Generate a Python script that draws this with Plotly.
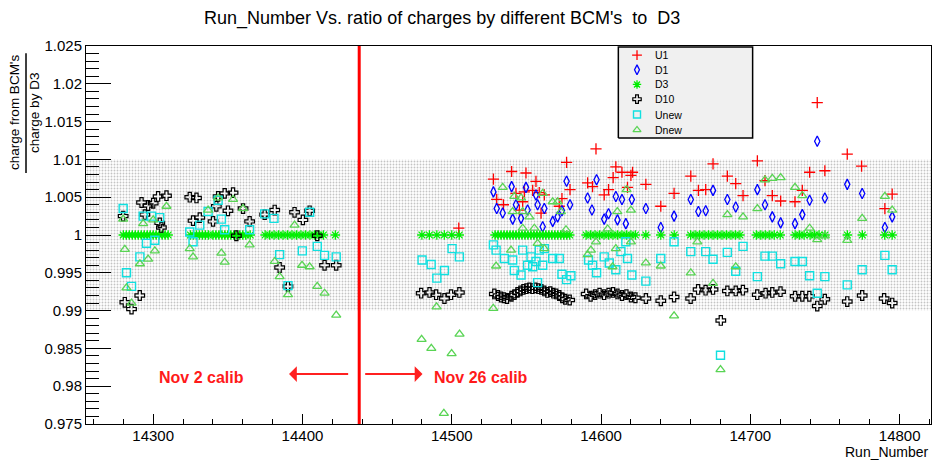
import plotly.graph_objects as go

# ---------------- data ----------------
u1_runs = [14504.7, 14527.9, 14530.1, 14534.6, 14540.1, 14543.0, 14545.3, 14547.5, 14548.6, 14549.7,
           14554.2, 14556.4, 14558.6, 14559.8, 14562.0, 14572.0, 14573.8, 14576.9, 14579.2, 14591.0,
           14594.3, 14596.6, 14602.1, 14605.0, 14608.1, 14609.9, 14614.0, 14617.7, 14620.0, 14621.1,
           14630.0, 14640.0, 14648.9, 14660.1, 14665.2, 14670.1, 14675.0, 14684.6, 14690.2, 14695.1,
           14704.7, 14709.8, 14714.7, 14720.3, 14729.9, 14734.8, 14739.7, 14744.8, 14749.9, 14764.9,
           14774.5, 14790.1, 14795.0]
u1_ratio = [1.0009, 1.0074, 1.0047, 1.0040, 1.0084, 1.0055, 1.0033, 1.0044, 1.0057, 1.0082,
            1.0059, 1.0071, 1.0056, 1.0029, 1.0053, 1.0038, 1.0048, 1.0096, 1.0060, 1.0069,
            1.0064, 1.0114, 1.0053, 1.0060, 1.0076, 1.0090, 1.0083, 1.0063, 1.0079, 1.0083,
            1.0067, 1.0038, 1.0055, 1.0078, 1.0059, 1.0060, 1.0094, 1.0078, 1.0068, 1.0052,
            1.0098, 1.0072, 1.0052, 1.0045, 1.0044, 1.0059, 1.0083, 1.0175, 1.0085, 1.0107,
            1.0091, 1.0035, 1.0054]

d1_runs = [14527.9, 14530.1, 14534.1, 14540.1, 14540.8, 14543.0, 14546.4, 14549.7, 14550.8, 14556.4,
           14557.5, 14560.9, 14562.0, 14567.6, 14570.9, 14573.8, 14576.9, 14579.2, 14591.0, 14593.9,
           14597.0, 14602.1, 14605.0, 14609.9, 14611.0, 14614.0, 14616.6, 14620.6, 14630.0, 14640.0,
           14648.9, 14660.1, 14665.2, 14670.1, 14675.0, 14684.6, 14690.2, 14704.7, 14709.8, 14714.7,
           14720.3, 14729.9, 14734.8, 14739.7, 14744.8, 14749.9, 14764.9, 14774.9, 14790.1, 14795.0]
d1_ratio = [1.0057, 1.0035, 1.0029, 1.0064, 1.0021, 1.0040, 1.0022, 1.0063, 1.0033, 1.0053,
            1.0040, 1.0011, 1.0035, 1.0018, 1.0024, 1.0032, 1.0071, 1.0040, 1.0049, 1.0033,
            1.0073, 1.0021, 1.0028, 1.0051, 1.0020, 1.0047, 1.0015, 1.0047, 1.0035, 1.0010,
            1.0025, 1.0047, 1.0031, 1.0032, 1.0059, 1.0047, 1.0037, 1.0060, 1.0040, 1.0024,
            1.0016, 1.0015, 1.0027, 1.0046, 1.0124, 1.0049, 1.0067, 1.0055, 1.0010, 1.0024]

d3_runs = [14280, 14282, 14284, 14286, 14288, 14290, 14292, 14294, 14296, 14298, 14300, 14302, 14304,
           14306, 14308, 14310, 14325, 14327, 14329, 14331, 14333, 14335, 14337, 14340, 14342, 14344,
           14346, 14348, 14350, 14352, 14354, 14356, 14358, 14360, 14362, 14365, 14375, 14378, 14381,
           14384, 14387, 14390, 14393, 14396, 14399, 14402, 14405, 14408, 14411, 14414, 14422,
           14480, 14485, 14490, 14495, 14500, 14505, 14529, 14531, 14533, 14535, 14537, 14539, 14541,
           14543, 14545, 14547, 14549, 14551, 14553, 14555, 14557, 14559, 14561, 14563, 14565, 14567,
           14569, 14571, 14573, 14575, 14577, 14579, 14590, 14593, 14596, 14599, 14602, 14605, 14608,
           14611, 14614, 14617, 14620, 14623, 14630, 14640, 14649, 14660, 14663, 14666, 14669, 14672,
           14675, 14678, 14681, 14684, 14687, 14690, 14693, 14704, 14707, 14710, 14713, 14716, 14720,
           14730, 14733, 14736, 14740, 14743, 14746, 14750, 14765, 14775, 14790, 14795]
d3_ratio = [1.0, 1.0, 1.0, 1.0, 1.0, 1.0, 1.0, 1.0, 1.0, 1.0, 1.0, 1.0, 1.0,
            1.0, 1.0, 1.0, 1.0, 1.0, 1.0, 1.0, 1.0, 1.0, 1.0, 1.0, 1.0, 1.0,
            1.0, 1.0, 1.0, 1.0, 1.0, 1.0, 1.0, 1.0, 1.0, 1.0, 1.0, 1.0, 1.0,
            1.0, 1.0, 1.0, 1.0, 1.0, 1.0, 1.0, 1.0, 1.0, 1.0, 1.0, 1.0,
            1.0, 1.0, 1.0, 1.0, 1.0, 1.0, 1.0, 1.0, 1.0, 1.0, 1.0, 1.0, 1.0,
            1.0, 1.0, 1.0, 1.0, 1.0, 1.0, 1.0, 1.0, 1.0, 1.0, 1.0, 1.0, 1.0,
            1.0, 1.0, 1.0, 1.0, 1.0, 1.0, 1.0, 1.0, 1.0, 1.0, 1.0, 1.0, 1.0,
            1.0, 1.0, 1.0, 1.0, 1.0, 1.0, 1.0, 1.0, 1.0, 1.0, 1.0, 1.0, 1.0,
            1.0, 1.0, 1.0, 1.0, 1.0, 1.0, 1.0, 1.0, 1.0, 1.0, 1.0, 1.0, 1.0,
            1.0, 1.0, 1.0, 1.0, 1.0, 1.0, 1.0, 1.0, 1.0, 1.0, 1.0]

d10_runs = [14279.9, 14281.0, 14285.5, 14291.0, 14292.2, 14294.4, 14296.6, 14300.0, 14303.3, 14304.4,
            14305.5, 14308.9, 14324.5, 14326.7, 14329.0, 14331.2, 14340.1, 14342.3, 14343.5, 14347.9,
            14350.1, 14353.5, 14355.7, 14360.2, 14364.6, 14374.7, 14381.4, 14384.7, 14390.3, 14394.7,
            14400.3, 14404.8, 14409.9, 14414.8, 14422.6,
            14479.5, 14485.1, 14489.5, 14495.1, 14499.5, 14505.1,
            14528.5, 14531, 14533, 14535, 14537, 14540, 14542, 14544, 14546, 14548, 14550, 14552,
            14554, 14556, 14558, 14560, 14562, 14564, 14566, 14568, 14570, 14572, 14574, 14576, 14579,
            14590, 14593, 14596, 14599, 14602, 14605, 14608, 14611, 14614, 14617, 14620, 14623,
            14630, 14640, 14648.9, 14660, 14665, 14670, 14675, 14680.2, 14684.6, 14690.2, 14695,
            14704.6, 14710.2, 14714.7, 14720.2, 14730, 14734.8, 14739.5, 14744.8, 14749.9, 14764.9,
            14774.9, 14789.6, 14795]
d10_ratio = [1.0025, 0.9911, 0.9902, 0.9920, 1.0043, 1.0027, 1.0039, 1.0042, 1.0051, 1.0016,
             1.0010, 1.0052, 1.0050, 1.0019, 1.0049, 1.0023, 1.0018, 1.0038, 1.0051, 1.0055,
             1.0032, 1.0056, 0.9999, 1.0035, 1.0018, 1.0027, 1.0033, 0.9957, 0.9932, 1.0030,
             1.0020, 1.0032, 0.9999, 0.9960, 0.9960,
             0.9923, 0.9924, 0.9921, 0.9916, 0.9921, 0.9924,
             0.9922, 0.9920, 0.9918, 0.9917, 0.9916, 0.9919, 0.9921, 0.9924, 0.9926, 0.9928, 0.9929, 0.9930,
             0.9929, 0.9930, 0.9929, 0.9928, 0.9926, 0.9924, 0.9925, 0.9923, 0.9922, 0.9920, 0.9917, 0.9915, 0.9914,
             0.9922, 0.9919, 0.9921, 0.9923, 0.9921, 0.9923, 0.9924, 0.9922, 0.9920, 0.9921, 0.9918, 0.9917,
             0.9916, 0.9913, 0.9918, 0.9916, 0.9928, 0.9927, 0.9928, 0.9887, 0.9926, 0.9926, 0.9927,
             0.9921, 0.9923, 0.9924, 0.9925, 0.9919, 0.9919, 0.9919, 0.9906, 0.9915, 0.9912,
             0.9920, 0.9916, 0.9910]

unew_runs = [14279.9, 14282.1, 14285.5, 14291.1, 14293.3, 14295.5, 14298.9, 14301.1, 14304.4, 14324.5,
             14326.7, 14331.2, 14336.8, 14343.5, 14345.7, 14347.9, 14364.6, 14374.7, 14380.9, 14384.7,
             14390.3, 14399.9, 14404.8, 14409.9, 14414.8, 14422.6,
             14480.1, 14486.2, 14490.0, 14495.1, 14500.2, 14505.1, 14527.9, 14529.7, 14535.2, 14540.8,
             14541.9, 14546.4, 14547.5, 14550.8, 14553.1, 14554.2, 14556.4, 14557.5, 14558.6, 14560.9,
             14562.0, 14567.6, 14572.0, 14573.8, 14576.9, 14579.8, 14591.6, 14594.3, 14597.0, 14602.1,
             14605.5, 14609.9, 14613.3, 14616.6, 14617.7, 14620.6, 14630.0, 14640.0, 14648.9, 14660.1,
             14670.1, 14675.0, 14680.0, 14684.6, 14690.2, 14695.1, 14704.7, 14709.8, 14714.7, 14720.3,
             14729.9, 14734.8, 14739.7, 14744.8, 14749.9, 14764.9, 14774.9, 14790.1, 14795.0]
unew_ratio = [1.0035, 0.9950, 0.9932, 0.9971, 1.0025, 0.9989, 1.0025, 0.9993, 1.0023, 1.0004,
              0.9991, 1.0013, 1.0031, 1.0046, 1.0021, 1.0007, 1.0007, 1.0028, 1.0022, 0.9974,
              0.9933, 0.9979, 1.0030, 0.9985, 0.9973, 0.9971,
              0.9967, 0.9961, 0.9943, 0.9953, 0.9982, 0.9971, 0.9987, 0.9980, 0.9969, 0.9967,
              0.9953, 0.9947, 0.9980, 0.9960, 0.9971, 0.9958, 0.9965, 0.9937, 0.9980, 0.9960,
              0.9982, 0.9969, 0.9969, 0.9948, 0.9941, 0.9946, 0.9967, 0.9960, 0.9950, 0.9971,
              0.9963, 0.9954, 0.9978, 0.9991, 0.9969, 0.9947, 0.9939, 0.9969, 0.9991, 0.9978,
              0.9978, 0.9968, 0.9841, 0.9977, 0.9952, 0.9985, 0.9945, 0.9972, 0.9972, 0.9962,
              0.9965, 0.9965, 0.9946, 0.9923, 0.9945, 0.9934, 0.9954, 0.9973, 0.9954]

dnew_runs = [14279.9, 14281.0, 14282.1, 14285.5, 14291.1, 14293.3, 14296.6, 14300.0, 14301.1, 14308.9,
             14324.5, 14326.7, 14336.8, 14343.5, 14345.7, 14347.9, 14353.5, 14360.2, 14364.6, 14381.4,
             14384.7, 14390.3, 14394.7, 14399.7, 14404.8, 14409.9, 14414.8, 14422.6,
             14479.8, 14486.3, 14489.8, 14494.7, 14499.9, 14505.2, 14527.8, 14529.7, 14534.1, 14539.7,
             14540.8, 14541.9, 14546.4, 14547.5, 14547.5, 14552.0, 14555.3, 14557.5, 14560.9, 14562.0,
             14567.6, 14570.9, 14573.1, 14576.5, 14591.0, 14593.2, 14596.6, 14604.4, 14607.7, 14609.9,
             14610.9, 14617.1, 14620.0, 14620.0, 14630.0, 14640.0, 14648.9, 14660.1, 14664.5, 14675.0,
             14680.0, 14684.6, 14690.2, 14695.1, 14704.7, 14709.8, 14714.7, 14720.3, 14729.9, 14734.8,
             14739.7, 14744.8, 14749.9, 14764.9, 14774.9, 14790.1, 14795.0]
dnew_ratio = [1.0021, 0.9981, 0.9930, 0.9910, 0.9962, 1.0015, 0.9968, 1.0020, 0.9979, 1.0038,
              0.9982, 0.9971, 1.0033, 1.0049, 0.9976, 0.9964, 1.0047, 1.0035, 0.9987, 0.9965,
              0.9945, 0.9921, 1.0013, 0.9960, 0.9958, 0.9932, 0.9923, 0.9894,
              0.9862, 0.9850, 0.9905, 0.9764, 0.9843, 0.9869, 0.9903, 0.9959, 1.0063, 0.9980,
              1.0031, 1.0051, 1.0049, 1.0031, 1.0009, 1.0024, 1.0009, 0.9989, 1.0055, 0.9982,
              1.0044, 1.0044, 1.0031, 1.0007, 0.9974, 0.9980, 0.9991, 1.0008, 0.9958, 0.9982,
              1.0031, 1.0060, 1.0033, 0.9991, 0.9963, 0.9959, 0.9893, 0.9950, 0.9991, 0.9936,
              0.9822, 1.0027, 0.9958, 1.0024, 1.0035, 1.0073, 1.0075, 1.0076, 1.0063, 1.0052,
              1.0009, 0.9994, 0.9999, 0.9993, 1.0022, 1.0051, 1.0033]

band_limits = [0.99, 1.01]
calib_change_run = 14438
x_range = [14255, 14821]
y_range = [0.975, 1.025]
x_tickvals = [14300, 14400, 14500, 14600, 14700, 14800]
x_ticktext = ["14300", "14400", "14500", "14600", "14700", "14800"]
y_tickvals = [0.975, 0.98, 0.985, 0.99, 0.995, 1.0, 1.005, 1.01, 1.015, 1.02, 1.025]
y_ticktext = ["0.975", "0.98", "0.985", "0.99", "0.995", "1", "1.005", "1.01", "1.015", "1.02", "1.025"]
series_names = ["U1", "D1", "D3", "D10", "Unew", "Dnew"]
title_text = "Run_Number Vs. ratio of charges by different BCM's\u00a0 to\u00a0 D3"

# ---------------- styles ----------------
FONT = "Liberation Sans, Arial, Helvetica, sans-serif"
styles = {
    "U1":   dict(symbol="cross-thin-open", color="#ff0000", size=8, width=1.3),
    "D1":   dict(symbol="diamond-tall-open", color="#0000ff", size=7.5, width=1.3),
    "D3":   dict(symbol="asterisk-open", color="#00ee00", size=8, width=1.3),
    "D10":  dict(symbol="cross-open", color="#000000", size=8, width=1.2),
    "Unew": dict(symbol="square-open", color="#10e0e0", size=8, width=1.4),
    "Dnew": dict(symbol="triangle-up-open", color="#59d454", size=8, width=1.3),
}
data = {
    "U1": (u1_runs, u1_ratio), "D1": (d1_runs, d1_ratio), "D3": (d3_runs, d3_ratio),
    "D10": (d10_runs, d10_ratio), "Unew": (unew_runs, unew_ratio), "Dnew": (dnew_runs, dnew_ratio),
}

fig = go.Figure()

# dotted band
fig.add_trace(go.Scatter(
    x=[x_range[0], x_range[1], x_range[1], x_range[0], x_range[0]],
    y=[band_limits[0], band_limits[0], band_limits[1], band_limits[1], band_limits[0]],
    mode="lines", fill="toself", line=dict(width=0),
    fillcolor="rgba(0,0,0,0)",
    fillpattern=dict(shape=".", fgcolor="#8a8a8a", bgcolor="white", size=3, solidity=0.3),
    hoverinfo="skip", showlegend=False))

for name in series_names:
    xs, ys = data[name]
    st = styles[name]
    fig.add_trace(go.Scatter(
        x=xs, y=ys, mode="markers", name=name, showlegend=False,
        marker=dict(symbol=st["symbol"], size=st["size"], color=st["color"],
                    line=dict(color=st["color"], width=st["width"]))))

# ---------------- manual legend (inset axes) ----------------
leg_rows = [0.911, 0.749, 0.588, 0.427, 0.258, 0.089]
fig.add_trace(go.Scatter(
    x=[0, 1, 1, 0, 0], y=[0, 0, 1, 1, 0], xaxis="x2", yaxis="y2",
    mode="lines", fill="toself", fillcolor="#f0f0f0",
    line=dict(color="black", width=1.5), hoverinfo="skip", showlegend=False))
for name, ry in zip(series_names, leg_rows):
    st = styles[name]
    fig.add_trace(go.Scatter(
        x=[0.139], y=[ry], xaxis="x2", yaxis="y2", mode="markers", showlegend=False,
        hoverinfo="skip",
        marker=dict(symbol=st["symbol"], size=7, color=st["color"],
                    line=dict(color=st["color"], width=st["width"]))))

annotations = []
for name, ry in zip(series_names, leg_rows):
    annotations.append(dict(xref="x2", yref="y2", x=0.255, y=ry, text=name, showarrow=False,
                            xanchor="left", yanchor="middle",
                            font=dict(family=FONT, size=10.5, color="black")))

# calibration labels / arrows
annotations += [
    dict(xref="x", yref="y", x=14332.6, y=0.9811, text="<b>Nov 2 calib</b>", showarrow=False,
         font=dict(family=FONT, size=16, color="#ff1a1a")),
    dict(xref="x", yref="y", x=14519.5, y=0.9811, text="<b>Nov 26 calib</b>", showarrow=False,
         font=dict(family=FONT, size=16, color="#ff1a1a")),
    dict(xref="x", yref="y", x=14391, y=0.9816, axref="x", ayref="y", ax=14431.6, ay=0.9816,
         text="", showarrow=True, arrowhead=1, arrowsize=1.3, arrowwidth=2, arrowcolor="#ff2020"),
    dict(xref="x", yref="y", x=14480.4, y=0.9816, axref="x", ayref="y", ax=14441, ay=0.9816,
         text="", showarrow=True, arrowhead=1, arrowsize=1.3, arrowwidth=2, arrowcolor="#ff2020"),
    # axis titles
    dict(xref="paper", yref="paper", x=1, y=0, xanchor="right", yanchor="top", yshift=-18,
         text="Run_Number", showarrow=False, font=dict(family=FONT, size=14, color="black")),
    dict(xref="paper", yref="paper", x=0, xshift=-71, y=0.823, textangle=-90,
         xanchor="center", yanchor="middle", text="charge from BCM's", showarrow=False,
         font=dict(family=FONT, size=13.5, color="black")),
    dict(xref="paper", yref="paper", x=0, xshift=-51, y=0.823, textangle=-90,
         xanchor="center", yanchor="middle", text="charge by D3", showarrow=False,
         font=dict(family=FONT, size=13.5, color="black")),
]

shapes = [
    dict(type="line", xref="x", yref="paper", x0=calib_change_run, x1=calib_change_run, y0=0, y1=1,
         line=dict(color="#ff0000", width=3)),
    dict(type="line", xref="paper", yref="paper", x0=-0.0710, x1=-0.0710, y0=0.664, y1=0.981,
         line=dict(color="black", width=1.5)),
]

fig.update_layout(
    width=933, height=461, autosize=False,
    margin=dict(l=86, r=2, t=46, b=37),
    paper_bgcolor="white", plot_bgcolor="white",
    font=dict(family=FONT, color="black"),
    title=dict(text=title_text,
               x=0.474, xref="container", xanchor="center", y=0.962, yref="container",
               yanchor="middle", font=dict(family=FONT, size=18, color="black")),
    xaxis=dict(range=x_range, showgrid=False, zeroline=False, showline=True, linecolor="black",
               linewidth=1, mirror=True, ticks="inside", ticklen=10, tickcolor="black", tickwidth=1,
               tickmode="array", tickvals=x_tickvals, ticktext=x_ticktext, ticklabelstandoff=-2,
               tickfont=dict(family=FONT, size=15, color="black"),
               minor=dict(ticks="inside", ticklen=5, tick0=14300, dtick=20, tickcolor="black",
                          tickwidth=1, showgrid=False)),
    yaxis=dict(range=y_range, showgrid=False, zeroline=False, showline=True, linecolor="black",
               linewidth=1, mirror=True, ticks="inside", ticklen=25, tickcolor="black", tickwidth=1,
               tickmode="array", tickvals=y_tickvals, ticktext=y_ticktext,
               tickfont=dict(family=FONT, size=15, color="black"),
               minor=dict(ticks="inside", ticklen=13, tick0=0.975, dtick=0.001, tickcolor="black",
                          tickwidth=1, showgrid=False)),
    xaxis2=dict(domain=[0.6284, 0.7905], range=[-0.01, 1.01], visible=False, anchor="y2",
                fixedrange=True),
    yaxis2=dict(domain=[0.754, 1.0], range=[-0.01, 1.01], visible=False, anchor="x2",
                fixedrange=True),
    annotations=annotations, shapes=shapes, showlegend=False,
)

fig.write_html("out.html")
